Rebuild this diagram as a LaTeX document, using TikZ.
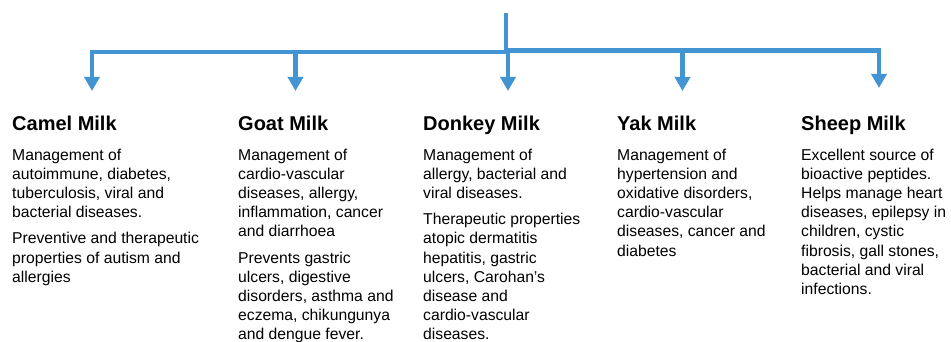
\documentclass[tikz,border=0pt]{standalone}
\usepackage{fontspec}
\setmainfont{Liberation Sans}
\usetikzlibrary{arrows.meta}
\definecolor{connblue}{RGB}{66,148,210}
\begin{document}
\begin{tikzpicture}[x=1pt,y=-1pt,
  conn/.style={draw=connblue,line width=4.5pt},
  tip/.style={-{Triangle[width=15pt,length=14pt]}},
  title/.style={anchor=base west,inner sep=0pt,font=\fontsize{20}{24}\selectfont\bfseries},
  body/.style={anchor=north west,inner sep=0pt,align=left,font=\fontsize{15.7}{19.2}\selectfont}]
\useasboundingbox (0,0) rectangle (951,342);
% connector points
\coordinate (top) at (506,13);
\coordinate (hub) at (506,51);
\coordinate (hubL) at (508,52);
\coordinate (hubR) at (505,50.5);
\coordinate (goatTop) at (295.5,52);
\coordinate (donkeyTop) at (508,52);
\coordinate (yakTop) at (682.5,50.5);
\coordinate (camelTip) at (92,91);
\coordinate (goatTip) at (295.5,91);
\coordinate (donkeyTip) at (508,91);
\coordinate (yakTip) at (682.5,91);
\coordinate (sheepTip) at (879,88);
\draw[conn] (top) -- (hub);
\draw[conn,tip] (hubL) -| (camelTip);
\draw[conn,tip] (hubR) -| (sheepTip);
\draw[conn,tip] (goatTop) -- (goatTip);
\draw[conn,tip] (donkeyTop) -- (donkeyTip);
\draw[conn,tip] (yakTop) -- (yakTip);
% titles
\node[title] (camelT) at (12,131) {Camel Milk};
\node[title] (goatT) at (238,131) {Goat Milk};
\node[title] (donkeyT) at (423,131) {Donkey Milk};
\node[title] (yakT) at (617,131) {Yak Milk};
\node[title] (sheepT) at (801,131) {Sheep Milk};
% bodies
\node[body] (camelB) at (12,148.5) {Management of\\autoimmune, diabetes,\\tuberculosis, viral and\\bacterial diseases.\\[7pt]Preventive and therapeutic\\properties of autism and\\allergies};
\node[body] (goatB) at (238,148.5) {Management of\\cardio-vascular\\diseases, allergy,\\inflammation, cancer\\and diarrhoea\\[7pt]Prevents gastric\\ulcers, digestive\\disorders, asthma and\\eczema, chikungunya\\and dengue fever.};
\node[body] (donkeyB) at (423,148.5) {Management of\\allergy, bacterial and\\viral diseases.\\[7pt]Therapeutic properties\\atopic dermatitis\\hepatitis, gastric\\ulcers, Carohan's\\disease and\\cardio-vascular\\diseases.};
\node[body] (yakB) at (617,148.5) {Management of\\hypertension and\\oxidative disorders,\\cardio-vascular\\diseases, cancer and\\diabetes};
\node[body] (sheepB) at (801,148.5) {Excellent source of\\bioactive peptides.\\Helps manage heart\\diseases, epilepsy in\\children, cystic\\fibrosis, gall stones,\\bacterial and viral\\infections.};
\end{tikzpicture}
\end{document}
